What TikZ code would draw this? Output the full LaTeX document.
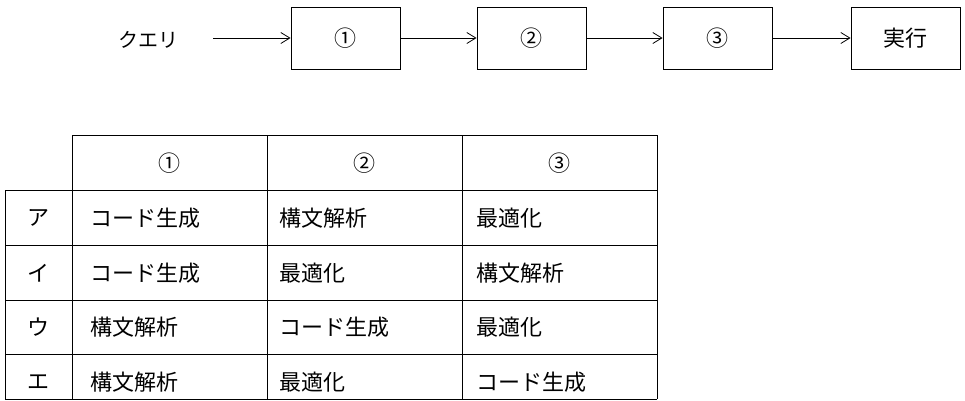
\documentclass[tikz,border=0pt]{standalone}
\usepackage{fontspec}
\setmainfont{Noto Sans CJK JP}
\usetikzlibrary{arrows.meta}
\begin{document}
\begin{tikzpicture}[x=1pt,y=-1pt,
  box/.style={draw,line width=0.9pt,minimum width=109pt,minimum height=62pt,inner sep=0pt,font=\fontsize{22}{24}\selectfont},
  arr/.style={-{Straight Barb[length=9pt,width=11pt]},line width=0.8pt},
  cell/.style={anchor=west,font=\fontsize{22}{24}\selectfont,inner sep=0pt},
  ctr/.style={font=\fontsize{22}{24}\selectfont,inner sep=0pt},
  grid/.style={line width=0.9pt}]
\useasboundingbox (0,0) rectangle (965,400);
\node[ctr,font=\fontsize{20}{22}\selectfont] (q) at (148,40) {クエリ};
\node[box] (b1) at (345.5,38) {①};
\node[box] (b2) at (531.5,38) {②};
\node[box] (b3) at (717.5,38) {③};
\node[box] (b4) at (905.5,38) {実行};
\coordinate (qs) at (213,38);
\draw[arr] (qs) -- (b1.west);
\draw[arr] (b1) -- (b2);
\draw[arr] (b2) -- (b3);
\draw[arr] (b3) -- (b4);
% table grid
\draw[grid] (72,135) -- (657,135);
\foreach \y in {190,245,300,354,399} \draw[grid] (5,\y) -- (657,\y);
\draw[grid] (5,190) -- (5,399);
\foreach \x in {72,267,462,657} \draw[grid] (\x,135) -- (\x,399);
\node[ctr] (h1) at (169.5,163) {①};
\node[ctr] (h2) at (364.5,163) {②};
\node[ctr] (h3) at (559.5,163) {③};
\node[ctr] (ra) at (38.5,218) {ア};
\node[ctr] (ri) at (38.5,273) {イ};
\node[ctr] (ru) at (38.5,327) {ウ};
\node[ctr] (re) at (38.5,382) {エ};
\node[cell] (a1) at (90,218) {コード生成};
\node[cell] (a2) at (279,218) {構文解析};
\node[cell] (a3) at (476,218) {最適化};
\node[cell] (i1) at (90,273) {コード生成};
\node[cell] (i2) at (279,273) {最適化};
\node[cell] (i3) at (476,273) {構文解析};
\node[cell] (u1) at (90,327) {構文解析};
\node[cell] (u2) at (279,327) {コード生成};
\node[cell] (u3) at (476,327) {最適化};
\node[cell] (e1) at (90,382) {構文解析};
\node[cell] (e2) at (279,382) {最適化};
\node[cell] (e3) at (476,382) {コード生成};
\end{tikzpicture}
\end{document}
